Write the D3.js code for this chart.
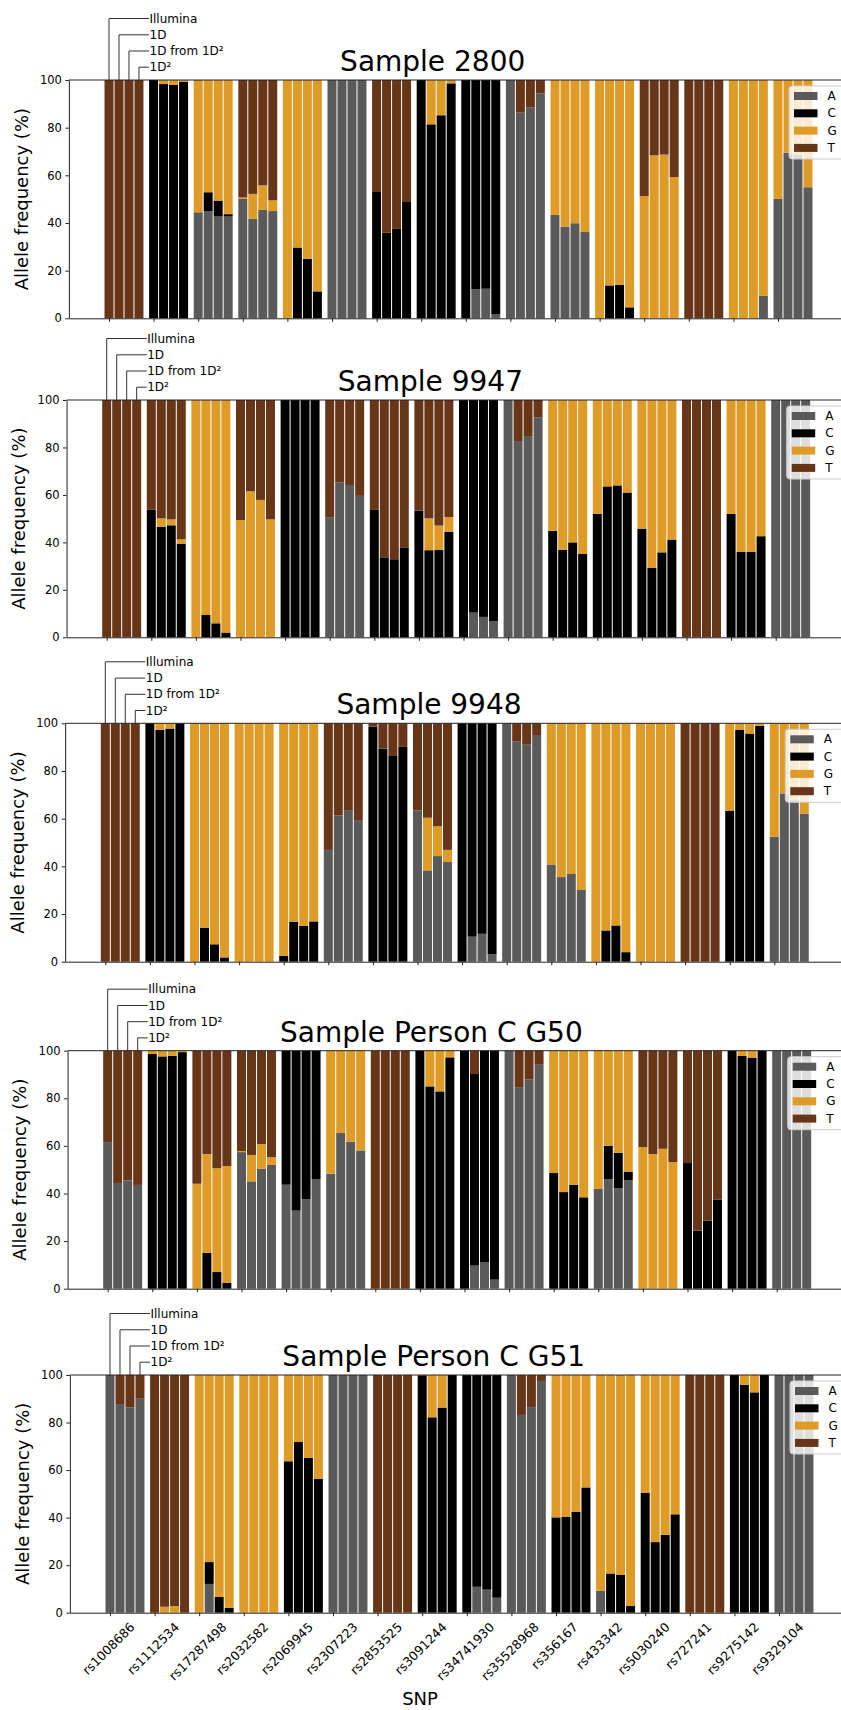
<!DOCTYPE html>
<html>
<head>
<meta charset="utf-8">
<script src="https://cdn.jsdelivr.net/npm/d3@7"></script>
<style>
    body { margin: 0; background: #fff; }
    svg { display: block; background: #fff; }
    text { font-family: "DejaVu Sans", sans-serif; fill: #000; }
</style>
</head>
<body>
<svg id="chart"></svg>
<script>

// ---------- data ----------
var snps = ["rs1008686", "rs1112534", "rs17287498", "rs2032582", "rs2069945", "rs2307223",
            "rs2853525", "rs3091244", "rs34741930", "rs35528968", "rs356167", "rs433342",
            "rs5030240", "rs727241", "rs9275142", "rs9329104"];
var methods = ["Illumina", "1D", "1D from 1D\u00b2", "1D\u00b2"];
var alleles = ["A", "C", "G", "T"];
var alleleColors = ["#5a5a5a", "#000000", "#df9b28", "#673517"];
var yTicks = [0, 20, 40, 60, 80, 100];
var titles = ["Sample 2800", "Sample 9947", "Sample 9948", "Sample Person C G50", "Sample Person C G51"];

// each SNP: 4 bars (Illumina, 1D, 1D from 1D2, 1D2), each bar [A, C, G, T] in %
var s2800 = [
    [[0,0,0,100],[0,0,0,100],[0,0,0,100],[0,0,0,100]],
    [[0,100,0,0],[0,98.3,1.7,0],[0,97.9,2.1,0],[0,99.3,0.7,0]],
    [[44.5,0,55.3,0.2],[45,7.9,47.1,0],[42.7,6.7,50.6,0],[42.7,1,56.3,0]],
    [[50.1,0,0.6,49.3],[41.7,0,10.5,47.8],[45.5,0,10.3,44.2],[45,0,4.5,50.5]],
    [[0,0,100,0],[0,29.7,70.3,0],[0,25,75,0],[0,11.3,88.7,0]],
    [[100,0,0,0],[100,0,0,0],[100,0,0,0],[100,0,0,0]],
    [[0,53,0,47],[0,35.9,0,64.1],[0,37.5,0,62.5],[0,48.8,0,51.2]],
    [[0,100,0,0],[0,81.4,18.6,0],[0,85.2,14.8,0],[0,98.6,1.4,0]],
    [[0,100,0,0],[12.2,87.8,0,0],[12.4,87.6,0,0],[1.8,98.2,0,0]],
    [[100,0,0,0],[86.3,0,0,13.7],[88.4,0,0,11.6],[94.4,0,0,5.6]],
    [[43.4,0,56.6,0],[38.5,0,61.5,0],[39.9,0,60.1,0],[36.2,0,63.8,0]],
    [[0,0,100,0],[0,13.8,86.2,0],[0,14.1,85.9,0],[0,4.6,95.4,0]],
    [[0,0,51.3,48.7],[0,0,68.4,31.6],[0,0,68.7,31.3],[0,0,59.3,40.7]],
    [[0,0,0,100],[0,0,0,100],[0,0,0,100],[0,0,0,100]],
    [[0,0,100,0],[0,0,100,0],[0,0,100,0],[9.4,0,90.6,0]],
    [[50.1,0,49.9,0],[69.5,0,30.5,0],[68.5,0,31.5,0],[55,0,45,0]]
];

var s9947 = [
    [[0,0,0,100],[0,0,0,100],[0,0,0,100],[0,0,0,100]],
    [[0,53.7,0,46.3],[0,46.6,3.5,49.9],[0,47.2,2.5,50.3],[0,39.5,1.8,58.7]],
    [[0,0,100,0],[0,9.4,90.6,0],[0,5.9,94.1,0],[0,2,98,0]],
    [[0,0,49.4,50.6],[0,0,61.5,38.5],[0,0,57.9,42.1],[0,0,49.7,50.3]],
    [[0,100,0,0],[0,100,0,0],[0,100,0,0],[0,100,0,0]],
    [[50.4,0,0,49.6],[65.2,0,0,34.8],[64.2,0,0,35.8],[59.6,0,0,40.4]],
    [[0,53.7,0,46.3],[0,33.7,0,66.3],[0,32.9,0,67.1],[0,37.9,0,62.1]],
    [[0,53.4,0,46.6],[0,36.7,13.4,49.9],[0,36.9,10.2,52.9],[0,44.5,6.2,49.3]],
    [[0,100,0,0],[10.4,89.6,0,0],[8.6,91.4,0,0],[6.7,93.3,0,0]],
    [[100,0,0,0],[82.7,0,0,17.3],[84.8,0,0,15.2],[92.6,0,0,7.4]],
    [[0,44.9,55.1,0],[0,36.9,63.1,0],[0,40,60,0],[0,35.1,64.9,0]],
    [[0,52,48,0],[0,63.6,36.4,0],[0,64,36,0],[0,61,39,0]],
    [[0,45.8,54.2,0],[0,29.2,70.8,0],[0,35.8,64.2,0],[0,41.2,58.8,0]],
    [[0,0,0,100],[0,0,0,100],[0,0,0,100],[0,0,0,100]],
    [[0,52,48,0],[0,36.1,63.9,0],[0,36.1,63.9,0],[0,42.6,57.4,0]],
    [[100,0,0,0],[100,0,0,0],[100,0,0,0],[100,0,0,0]]
];

var s9948 = [
    [[0,0,0,100],[0,0,0,100],[0,0,0,100],[0,0,0,100]],
    [[0,100,0,0],[0,97.2,2.8,0],[0,97.8,2.2,0],[0,100,0,0]],
    [[0,0,100,0],[0,14.3,85.7,0],[0,7.3,92.7,0],[0,1.8,98.2,0]],
    [[0,0,100,0],[0,0,100,0],[0,0,100,0],[0,0,100,0]],
    [[0,2.4,97.6,0],[0,16.8,83.2,0],[0,15,85,0],[0,16.9,83.1,0]],
    [[46.9,0,0,53.1],[61.3,0,0,38.7],[63.6,0,0,36.4],[59.4,0,0,40.6]],
    [[0,98.6,0,1.4],[0,89.4,0,10.6],[0,86.3,0,13.7],[0,90.1,0,9.9]],
    [[63.4,0,0,36.6],[38.3,0,22.1,39.6],[44.3,0,12.5,43.2],[41.8,0,5.1,53.1]],
    [[0,100,0,0],[10.5,89.5,0,0],[11.7,88.3,0,0],[3.1,96.9,0,0]],
    [[100,0,0,0],[92.3,0,0,7.7],[91,0,0,9],[95.1,0,0,4.9]],
    [[40.8,0,59.2,0],[35.5,0,64.5,0],[36.8,0,63.2,0],[30.1,0,69.9,0]],
    [[0,0,100,0],[0,13.1,86.9,0],[0,15.2,84.8,0],[0,4,96,0]],
    [[0,0,100,0],[0,0,100,0],[0,0,100,0],[0,0,100,0]],
    [[0,0,0,100],[0,0,0,100],[0,0,0,100],[0,0,0,100]],
    [[0,63.4,36.6,0],[0,97.2,2.8,0],[0,95.7,4.3,0],[0,98.9,1.1,0]],
    [[52.4,0,47.6,0],[70.6,0,29.4,0],[68,0,32,0],[62.1,0,37.9,0]]
];

var sG50 = [
    [[61.6,0,0,38.4],[44.4,0,0,55.6],[45.5,0,0,54.5],[43.6,0,0,56.4]],
    [[0,98.6,1.4,0],[0,97.6,2.4,0],[0,97.9,2.1,0],[0,99.4,0.6,0]],
    [[0,0,44.1,55.9],[0,15,41.6,43.4],[0,7,43.6,49.4],[0,2.5,49,48.5]],
    [[57.4,0,0.4,42.2],[45.1,0,11.1,43.8],[50.4,0,10.4,39.2],[52,0,3.3,44.7]],
    [[43.7,56.3,0,0],[32.8,67.2,0,0],[37.7,62.3,0,0],[46.1,53.9,0,0]],
    [[48.3,0,51.7,0],[65.4,0,34.6,0],[61.8,0,38.2,0],[58.1,0,41.9,0]],
    [[0,0,0,100],[0,0,0,100],[0,0,0,100],[0,0,0,100]],
    [[0,100,0,0],[0,85,15,0],[0,82.9,17.1,0],[0,97.2,2.8,0]],
    [[0,100,0,0],[9.7,80.5,0,9.8],[11.2,88.8,0,0],[3.8,96.2,0,0]],
    [[100,0,0,0],[84.7,0,0,15.3],[88,0,0,12],[94.1,0,0,5.9]],
    [[0,48.6,51.4,0],[0,40.6,59.4,0],[0,43.7,56.3,0],[0,38.4,61.6,0]],
    [[41.9,0,58.1,0],[46.1,14,39.9,0],[42.3,14.8,42.9,0],[45.5,3.7,50.8,0]],
    [[0,0,59.5,40.5],[0,0,56.6,43.4],[0,0,58.8,41.2],[0,0,53.2,46.8]],
    [[0,52.8,0,47.2],[0,24.4,0,75.6],[0,28.6,0,71.4],[0,37.5,0,62.5]],
    [[0,100,0,0],[0,97.8,2.2,0],[0,97.1,2.9,0],[0,100,0,0]],
    [[100,0,0,0],[100,0,0,0],[100,0,0,0],[100,0,0,0]]
];

var sG51 = [
    [[100,0,0,0],[87.8,0,0,12.2],[86.4,0,0,13.6],[90,0,0,10]],
    [[0,0,0,100],[0,0,2.5,97.5],[0,0,2.8,97.2],[0,0,0,100]],
    [[0,0,100,0],[12.1,9.2,78.7,0],[0,6.6,93.4,0],[0,2,98,0]],
    [[0,0,100,0],[0,0,100,0],[0,0,100,0],[0,0,100,0]],
    [[0,63.7,36.3,0],[0,71.8,28.2,0],[0,65.1,34.9,0],[0,56.4,43.6,0]],
    [[100,0,0,0],[100,0,0,0],[100,0,0,0],[100,0,0,0]],
    [[0,0,0,100],[0,0,0,100],[0,0,0,100],[0,0,0,100]],
    [[0,99.6,0,0.4],[0,82.2,17.8,0],[0,86.3,13.7,0],[0,100,0,0]],
    [[0,100,0,0],[10.9,89.1,0,0],[9.7,90.3,0,0],[6.3,93.7,0,0]],
    [[100,0,0,0],[83.2,0,0,16.8],[86.5,0,0,13.5],[97.5,0,0,2.5]],
    [[0,40.1,59.9,0],[0,40.4,59.6,0],[0,42.4,57.6,0],[0,52.7,47.3,0]],
    [[9.3,0,90.7,0],[0,16.5,83.5,0],[0,16,84,0],[0,2.8,97.2,0]],
    [[0,50.5,49.5,0],[0,29.7,70.3,0],[0,32.8,67.2,0],[0,41.4,58.6,0]],
    [[0,0,0,100],[0,0,0,100],[0,0,0,100],[0,0,0,100]],
    [[0,100,0,0],[0,95.9,4.1,0],[0,92.7,7.3,0],[0,100,0,0]],
    [[100,0,0,0],[100,0,0,0],[100,0,0,0],[100,0,0,0]]
];

var samples = [s2800, s9947, s9948, sG50, sG51];

// ---------- layout ----------
var width = 841;
var height = 1710;
var panelTop = [80, 400, 723.3, 1050.7, 1375];
var panelBottom = [318.3, 637.3, 961.7, 1288.7, 1612.7];
var firstTick = [109, 106.7, 105.3, 107.7, 110];
var tickStep = 44.6;          // px per SNP
var barWidth = 0.224;         // in SNP units
var xDomain = [-0.9, 16.56];
var annotLevels = [61.5, 45.2, 29, 12.8];   // px above the top spine
var axisColor = "#222";

var svg = d3.select("#chart")
    .attr("width", width)
    .attr("height", height);

var stack = d3.stack().keys(alleles);
var color = d3.scaleOrdinal().domain(alleles).range(alleleColors);

samples.forEach(function (sample, p) {

    var top = panelTop[p];
    var bottom = panelBottom[p];
    var ft = firstTick[p];
    var isLast = (p === samples.length - 1);

    // scales
    var xScale = d3.scaleLinear()
        .domain(xDomain)
        .range([ft + xDomain[0] * tickStep, ft + xDomain[1] * tickStep]);
    var yScale = d3.scaleLinear()
        .domain([0, 100])
        .range([bottom, top]);

    var bw = xScale(barWidth) - xScale(0);
    var g = svg.append("g").attr("class", "panel");

    // flatten rows: one per bar
    var rows = [];
    sample.forEach(function (snpBars, i) {
        snpBars.forEach(function (v, k) {
            rows.push({pos: i + k * barWidth, A: v[0], C: v[1], G: v[2], T: v[3]});
        });
    });

    // stacked bars
    g.selectAll("g.layer")
        .data(stack(rows))
        .enter()
        .append("g")
        .attr("class", "layer")
        .attr("fill", function (d) { return color(d.key); })
        .selectAll("rect")
        .data(function (d) { return d; })
        .enter()
        .append("rect")
        .attr("x", function (d) { return xScale(d.data.pos) - bw / 2 + 0.5; })
        .attr("width", bw - 1)
        .attr("y", function (d) { return yScale(d[1]); })
        .attr("height", function (d) { return yScale(d[0]) - yScale(d[1]); });

    // axes
    var yAxis = d3.axisLeft(yScale)
        .tickValues(yTicks)
        .tickSize(3.5)
        .tickPadding(3.5)
        .tickSizeOuter(0);

    var xAxis = d3.axisBottom(xScale)
        .tickValues(d3.range(snps.length))
        .tickSize(3.5)
        .tickPadding(3.5)
        .tickSizeOuter(0)
        .tickFormat(function (i) { return isLast ? snps[i] : ""; });

    var gy = g.append("g")
        .attr("transform", "translate(" + xScale.range()[0] + ",0)")
        .call(yAxis);

    var gx = g.append("g")
        .attr("transform", "translate(0," + bottom + ")")
        .call(xAxis);

    [gx, gy].forEach(function (ax) {
        ax.selectAll("path, line").attr("stroke", axisColor).attr("stroke-width", 1);
        ax.selectAll("text")
            .style("font-family", "DejaVu Sans, sans-serif")
            .style("font-size", "11.5px")
            .attr("fill", "#000");
    });

    // rotated SNP labels (bounding box centred under the tick)
    if (isLast) {
        gx.selectAll(".tick text")
            .style("font-size", "12.5px")
            .attr("y", 0)
            .attr("dy", "0.35em")
            .attr("text-anchor", "middle")
            .attr("transform", function () {
                var w = this.getComputedTextLength();
                var half = (w + 14.5) / Math.SQRT2 / 2;
                return "translate(-2," + (7 + half) + ") rotate(-45)";
            });
    }

    // top spine
    g.append("line")
        .attr("x1", xScale.range()[0])
        .attr("x2", xScale.range()[1])
        .attr("y1", yScale(100))
        .attr("y2", yScale(100))
        .attr("stroke", axisColor);

    // right spine
    g.append("line")
        .attr("x1", xScale.range()[1])
        .attr("x2", xScale.range()[1])
        .attr("y1", yScale(100))
        .attr("y2", yScale(0))
        .attr("stroke", axisColor);

    // method annotations over the first SNP
    var textX = ft + 40;
    methods.forEach(function (m, k) {
        var bx = xScale(k * barWidth);
        var ly = yScale(100) - annotLevels[k];
        g.append("path")
            .attr("d", "M" + bx + "," + yScale(100) + "V" + ly + "H" + textX)
            .attr("fill", "none")
            .attr("stroke", "#333")
            .attr("stroke-width", 1);
        g.append("text")
            .attr("x", textX + 0.5)
            .attr("y", ly)
            .attr("dominant-baseline", "central")
            .style("font-size", "12px")
            .text(m);
    });

    // title
    g.append("text")
        .attr("x", ft + 323.7)
        .attr("y", top - 9)
        .attr("text-anchor", "middle")
        .style("font-size", "28px")
        .text(titles[p]);

    // y-axis name
    g.append("text")
        .attr("transform", "translate(" + (ft - 81.5) + "," + ((top + bottom) / 2) + ") rotate(-90)")
        .attr("text-anchor", "middle")
        .style("font-size", "18px")
        .text("Allele frequency (%)");

    // legend
    var lx = ft + 680;
    var ly0 = top + 6;
    var legend = g.append("g").attr("class", "legend");

    legend.append("rect")
        .attr("x", lx)
        .attr("y", ly0)
        .attr("width", 62)
        .attr("height", 73)
        .attr("rx", 3)
        .attr("fill", "#fff")
        .attr("fill-opacity", 0.8)
        .attr("stroke", "#cccccc")
        .attr("stroke-width", 1);

    alleles.forEach(function (a, k) {
        var cy = top + 16 + k * 17.3;
        legend.append("rect")
            .attr("x", lx + 5)
            .attr("y", cy - 4)
            .attr("width", 23.5)
            .attr("height", 8)
            .attr("fill", color(a));
        legend.append("text")
            .attr("x", lx + 38.5)
            .attr("y", cy)
            .attr("dominant-baseline", "central")
            .style("font-size", "12px")
            .text(a);
    });

    // x-axis name on the last panel
    if (isLast) {
        g.append("text")
            .attr("x", ft + 310)
            .attr("y", 1705)
            .attr("text-anchor", "middle")
            .style("font-size", "18px")
            .text("SNP");
    }
});

</script>
</body>
</html>
